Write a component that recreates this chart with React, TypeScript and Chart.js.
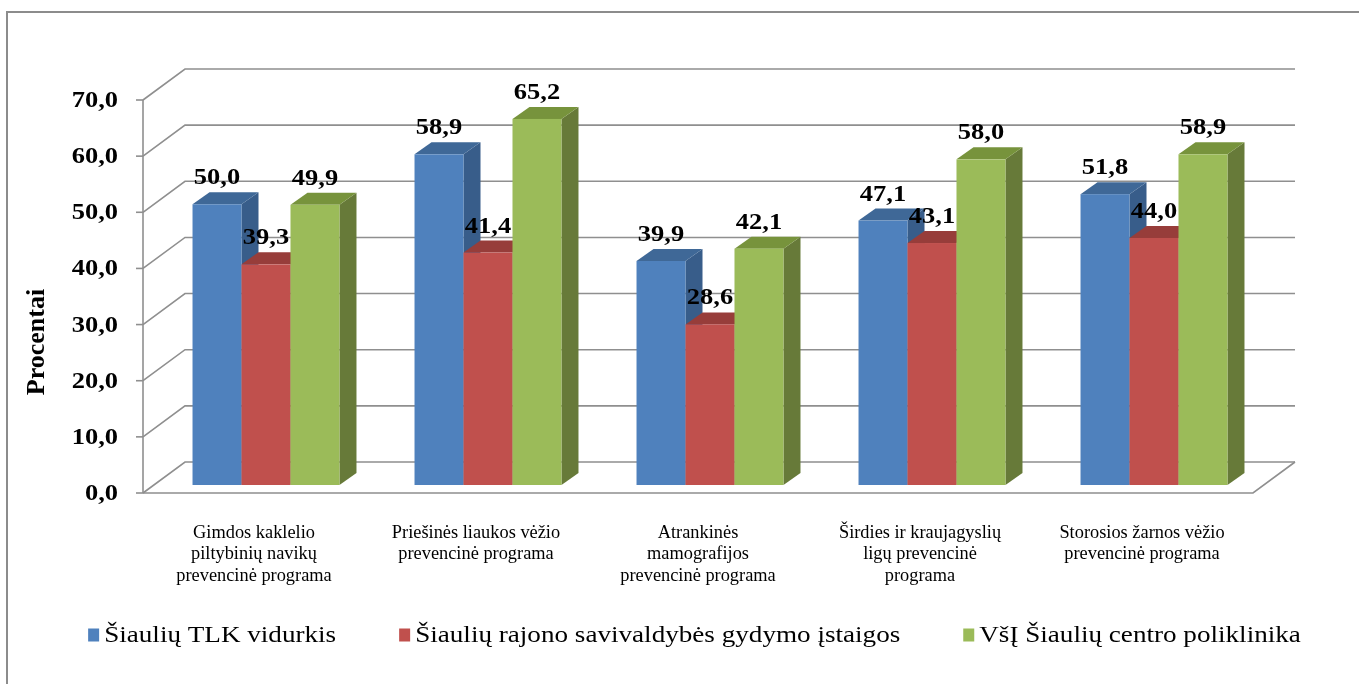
import React, { useEffect, useRef } from "react";
import { Chart, registerables } from "chart.js";

Chart.register(...registerables);

const categories: string[][] = [
  ["Gimdos kaklelio", "piltybinių navikų", "prevencinė programa"],
  ["Priešinės liaukos vėžio", "prevencinė programa"],
  ["Atrankinės", "mamografijos", "prevencinė programa"],
  ["Širdies ir kraujagyslių", "ligų prevencinė", "programa"],
  ["Storosios žarnos vėžio", "prevencinė programa"],
];

const seriesNames = [
  "Šiaulių TLK vidurkis",
  "Šiaulių rajono savivaldybės gydymo įstaigos",
  "VšĮ Šiaulių centro poliklinika",
];

const tlkValues = [50.0, 58.9, 39.9, 47.1, 51.8];
const rajonoValues = [39.3, 41.4, 28.6, 43.1, 44.0];
const poliklinikaValues = [49.9, 65.2, 42.1, 58.0, 58.9];

const yTicks = [0, 10, 20, 30, 40, 50, 60, 70];
const yTitle = "Procentai";

const frontColors = ["#4F81BD", "#C0504D", "#9BBB59"];
const topColors = ["#3F6897", "#973D3A", "#77933C"];
const sideColors = ["#385D8A", "#8A3A37", "#677A39"];

const SERIF = "'Liberation Serif', 'Times New Roman', serif";
const GRID = "#8f8f8f";

// 3D geometry
const DEPTH_X = 42;
const DEPTH_Y = -31;
const BAR_OFF_X = 12;
const BAR_OFF_Y = -8;
const BAR_D_X = 17;
const BAR_D_Y = -12;

function sText(ctx: CanvasRenderingContext2D, text: string, x: number, y: number, sx: number, align: CanvasTextAlign) {
  ctx.save();
  ctx.translate(x, y);
  ctx.scale(sx, 1);
  ctx.textAlign = align;
  ctx.fillText(text, 0, 0);
  ctx.restore();
}

const fmt = (v: number) => v.toFixed(1).replace(".", ",");

const threeD = {
  id: "threeD",
  beforeDatasetsDraw(chart: any) {
    const ctx: CanvasRenderingContext2D = chart.ctx;
    const ys = chart.scales.y;
    const xs = chart.scales.x;
    const left = xs.left;
    const right = xs.right;
    ctx.save();
    // outer border
    ctx.strokeStyle = "#8c8c8c";
    ctx.lineWidth = 2;
    ctx.beginPath();
    ctx.moveTo(7, 690);
    ctx.lineTo(7, 12);
    ctx.lineTo(1370, 12);
    ctx.stroke();

    ctx.strokeStyle = GRID;
    ctx.lineWidth = 1.6;
    yTicks.forEach((t) => {
      const y = ys.getPixelForValue(t);
      ctx.beginPath();
      ctx.moveTo(left, y);
      ctx.lineTo(left + DEPTH_X, y + DEPTH_Y);
      ctx.lineTo(right + DEPTH_X, y + DEPTH_Y);
      ctx.stroke();
      ctx.beginPath();
      ctx.moveTo(left - 7, y);
      ctx.lineTo(left, y);
      ctx.stroke();
    });
    const y0 = ys.getPixelForValue(0);
    ctx.beginPath();
    ctx.moveTo(left, y0);
    ctx.lineTo(right, y0);
    ctx.lineTo(right + DEPTH_X, y0 + DEPTH_Y);
    ctx.stroke();
    ctx.beginPath();
    ctx.moveTo(left, ys.getPixelForValue(70));
    ctx.lineTo(left, y0);
    ctx.stroke();

    // tick labels
    ctx.fillStyle = "#000";
    ctx.font = `bold 23px ${SERIF}`;
    ctx.textBaseline = "middle";
    yTicks.forEach((t) => {
      sText(ctx, fmt(t), left - 25, ys.getPixelForValue(t) + 1, 1.15, "right");
    });

    // y title
    ctx.save();
    ctx.translate(37, 342);
    ctx.rotate(-Math.PI / 2);
    ctx.font = `bold 26px ${SERIF}`;
    ctx.textAlign = "center";
    ctx.textBaseline = "middle";
    ctx.fillText(yTitle, 0, 0);
    ctx.restore();

    // x labels
    ctx.font = `18px ${SERIF}`;
    ctx.textBaseline = "middle";
    categories.forEach((lines, i) => {
      const cx = xs.getPixelForValue(i);
      lines.forEach((ln, k) => {
        sText(ctx, ln, cx, xs.bottom + 40 + k * 21.5, 1.02, "center");
      });
    });

    // legend
    ctx.font = `24px ${SERIF}`;
    const sx = 1.13;
    const gap = 63;
    const widths = seriesNames.map((n) => 16 + ctx.measureText(n).width * sx);
    const total = widths.reduce((a, b) => a + b, 0) + gap * (widths.length - 1);
    let lx = 694.5 - total / 2;
    const ly = 635;
    seriesNames.forEach((n, i) => {
      ctx.fillStyle = frontColors[i];
      ctx.fillRect(lx, ly - 6.5, 11, 13);
      ctx.fillStyle = "#000";
      ctx.textBaseline = "middle";
      sText(ctx, n, lx + 16, ly + 1, sx, "left");
      lx += widths[i] + gap;
    });
    ctx.restore();
  },
  afterDatasetsDraw(chart: any) {
    const ctx: CanvasRenderingContext2D = chart.ctx;
    const nData = chart.data.labels.length;
    const nSets = chart.data.datasets.length;
    ctx.save();
    const labels: { x: number; y: number; t: string }[] = [];
    for (let i = 0; i < nData; i++) {
      for (let d = 0; d < nSets; d++) {
        const el = chart.getDatasetMeta(d).data[i];
        const p = el.getProps(["x", "y", "base", "width"], true);
        const xL = p.x - p.width / 2 + BAR_OFF_X;
        const xR = p.x + p.width / 2 + BAR_OFF_X;
        const yT = p.y + BAR_OFF_Y;
        const yB = p.base + BAR_OFF_Y;
        ctx.fillStyle = sideColors[d];
        ctx.beginPath();
        ctx.moveTo(xR, yT);
        ctx.lineTo(xR + BAR_D_X, yT + BAR_D_Y);
        ctx.lineTo(xR + BAR_D_X, yB + BAR_D_Y);
        ctx.lineTo(xR, yB);
        ctx.closePath();
        ctx.fill();
        ctx.fillStyle = topColors[d];
        ctx.beginPath();
        ctx.moveTo(xL, yT);
        ctx.lineTo(xR, yT);
        ctx.lineTo(xR + BAR_D_X, yT + BAR_D_Y);
        ctx.lineTo(xL + BAR_D_X, yT + BAR_D_Y);
        ctx.closePath();
        ctx.fill();
        ctx.fillStyle = frontColors[d];
        ctx.fillRect(xL, yT, xR - xL, yB - yT);
        const v = chart.data.datasets[d].data[i];
        labels.push({ x: (xL + xR) / 2, y: yT + BAR_D_Y - 8, t: fmt(v) });
      }
    }
    ctx.fillStyle = "#000";
    ctx.font = `bold 23px ${SERIF}`;
    ctx.textBaseline = "alphabetic";
    labels.forEach((l) => sText(ctx, l.t, l.x, l.y, 1.15, "center"));
    ctx.restore();
  },
};

export default function App() {
  const ref = useRef<HTMLCanvasElement>(null);
  useEffect(() => {
    if (!ref.current) return;
    const chart = new Chart(ref.current, {
      type: "bar",
      data: {
        labels: categories.map((c) => c.join(" ")),
        datasets: [
          { label: seriesNames[0], data: tlkValues, backgroundColor: "rgba(0,0,0,0)" },
          { label: seriesNames[1], data: rajonoValues, backgroundColor: "rgba(0,0,0,0)" },
          { label: seriesNames[2], data: poliklinikaValues, backgroundColor: "rgba(0,0,0,0)" },
        ],
      },
      options: {
        responsive: false,
        devicePixelRatio: 1,
        animation: false,
        layout: { padding: { left: 143, right: 106, top: 100, bottom: 191 } },
        plugins: { legend: { display: false }, tooltip: { enabled: false } },
        datasets: { bar: { categoryPercentage: 0.662, barPercentage: 1.0 } },
        scales: {
          x: { display: false, offset: true },
          y: { display: false, min: 0, max: 70, ticks: { stepSize: 10 } },
        },
      },
      plugins: [threeD],
    });
    return () => chart.destroy();
  }, []);
  return (
    <div style={{ position: "absolute", left: 0, top: 0, width: 1359, height: 684, background: "#fff" }}>
      <canvas ref={ref} width={1359} height={684} style={{ display: "block" }} />
    </div>
  );
}
